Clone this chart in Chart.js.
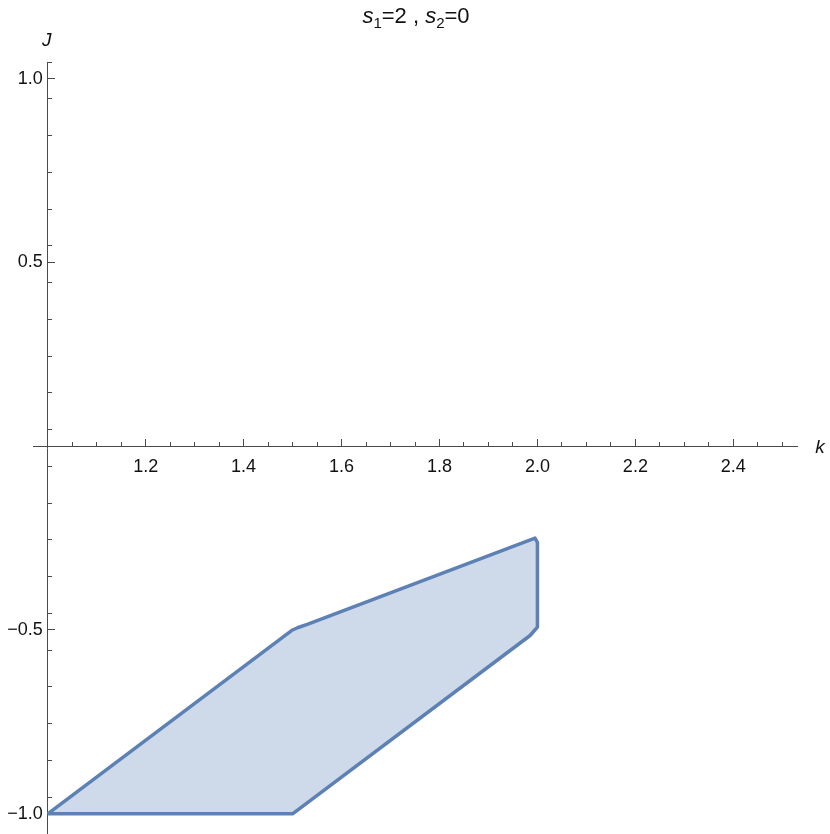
<!DOCTYPE html>
<html>
<head>
<meta charset="utf-8">
<script src="https://cdn.jsdelivr.net/npm/chart.js@4/dist/chart.umd.min.js"></script>
<style>
    body { margin: 0; background: #fff; }
    #wrap { width: 830px; height: 834px; position: relative; }
</style>
</head>
<body>
<div id="wrap"><canvas id="regionChart"></canvas></div>
<script>
// region boundary (k, J), walked round once
const kValues = [1.0, 1.5, 1.51, 1.53, 1.995, 2.0, 2.0, 1.985, 1.5, 1.0];
const jValues = [-1.0, -0.5, -0.494, -0.485, -0.25, -0.262, -0.492, -0.515, -1.0, -1.0];

const xTickLabels = [1.2, 1.4, 1.6, 1.8, 2.0, 2.2, 2.4];
const yTickLabels = [-1.0, -0.5, 0.5, 1.0];

const xRange = [0.97, 2.53];
const yRange = [-1.055, 1.045];

const titleParts = [
    { text: "s", italic: true },
    { text: "1", sub: true },
    { text: "=2 , " },
    { text: "s", italic: true },
    { text: "2", sub: true },
    { text: "=0" }
];
const xAxisName = "k";
const yAxisName = "J";

const lineColor = "#5e81b5";
const fillColor = "rgba(94,129,181,0.3)";
const axisColor = "#4a4a4a";
const textColor = "#111";
const fontFamily = "'Liberation Sans', Arial, sans-serif";

function zeroSize(scale) {
    if (scale.isHorizontal()) scale.height = 0; else scale.width = 0;
    scale.paddingLeft = scale.paddingRight = scale.paddingTop = scale.paddingBottom = 0;
}

const labelsPlugin = {
    id: "labels",
    afterDraw(chart) {
        const ctx = chart.ctx;
        const x = chart.scales.x, y = chart.scales.y;
        ctx.save();
        ctx.fillStyle = textColor;
        ctx.textBaseline = "alphabetic";

        // title with subscripts
        const big = 22, small = 15;
        const fontOf = p => (p.italic ? "italic " : "") + (p.sub ? small : big) + "px " + fontFamily;
        let total = 0;
        titleParts.forEach(p => { ctx.font = fontOf(p); total += ctx.measureText(p.text).width; });
        let cx = 416 - total / 2;
        titleParts.forEach(p => {
            ctx.font = fontOf(p);
            ctx.textAlign = "left";
            ctx.fillText(p.text, cx, p.sub ? 28 : 23);
            cx += ctx.measureText(p.text).width;
        });

        // axis names
        ctx.font = "italic 19px " + fontFamily;
        ctx.textAlign = "center";
        ctx.textBaseline = "middle";
        ctx.fillText(xAxisName, x.right + 23, y.getPixelForValue(0) + 2);
        ctx.fillText(yAxisName, x.getPixelForValue(1) - 1, y.top - 21);
        ctx.restore();
    }
};

const tickFont = { family: fontFamily, size: 18 };

new Chart(document.getElementById("regionChart"), {
    type: "scatter",
    data: {
        datasets: [{
            data: kValues.map((k, i) => ({ x: k, y: jValues[i] })),
            showLine: true,
            fill: "shape",
            borderColor: lineColor,
            backgroundColor: fillColor,
            borderWidth: 3.5,
            borderJoinStyle: "round",
            pointRadius: 0,
            tension: 0
        }]
    },
    options: {
        responsive: true,
        maintainAspectRatio: false,
        animation: false,
        layout: { padding: { left: 33, right: 33, top: 62, bottom: 0 } },
        plugins: {
            legend: { display: false },
            tooltip: { enabled: false },
            title: { display: false }
        },
        scales: {
            x: {
                type: "linear",
                position: { y: 0 },
                min: xRange[0],
                max: xRange[1],
                z: 1,
                afterBuildTicks: s => { s.ticks = xTickLabels.map(v => ({ value: v })); },
                afterFit: zeroSize,
                grid: { drawOnChartArea: false, tickLength: -8, tickColor: axisColor },
                border: { display: true, color: axisColor },
                ticks: {
                    autoSkip: false,
                    maxRotation: 0,
                    padding: 18,
                    color: textColor,
                    font: tickFont,
                    callback: v => v.toFixed(1)
                }
            },
            xMinor: {
                type: "linear",
                position: { y: 0 },
                min: xRange[0],
                max: xRange[1],
                z: 1,
                afterFit: zeroSize,
                grid: { drawOnChartArea: false, tickLength: -4, tickColor: axisColor },
                border: { display: false },
                ticks: { display: false, stepSize: 0.05, includeBounds: false, autoSkip: false }
            },
            y: {
                type: "linear",
                position: { x: 1 },
                min: yRange[0],
                max: yRange[1],
                z: 1,
                afterBuildTicks: s => { s.ticks = yTickLabels.map(v => ({ value: v })); },
                afterFit: zeroSize,
                grid: { drawOnChartArea: false, tickLength: -8, tickColor: axisColor },
                border: { display: true, color: axisColor },
                ticks: {
                    autoSkip: false,
                    color: textColor,
                    font: tickFont,
                    // object-positioned y axis puts labels flush with the line, pad with a space
                    callback: v => (v < 0 ? "\u2212" + Math.abs(v).toFixed(1) : v.toFixed(1)) + " "
                }
            },
            yMinor: {
                type: "linear",
                position: { x: 1 },
                min: yRange[0],
                max: yRange[1],
                z: 1,
                afterFit: zeroSize,
                grid: { drawOnChartArea: false, tickLength: -4, tickColor: axisColor },
                border: { display: false },
                ticks: { display: false, stepSize: 0.1, includeBounds: false, autoSkip: false }
            }
        }
    },
    plugins: [labelsPlugin]
});
</script>
</body>
</html>
